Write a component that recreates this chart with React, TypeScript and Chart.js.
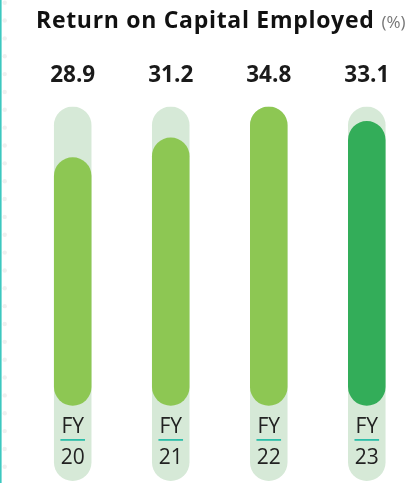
import React, { useEffect, useRef } from "react";
import { Chart, registerables } from "chart.js";

Chart.register(...registerables);

const titleText = "Return on Capital Employed";
const unitText = "(%)";
const fyPrefix = "FY";
const years = ["20", "21", "22", "23"];
const roce = [28.9, 31.2, 34.8, 33.1];
const trackRange: [number, number] = [-8.76, 34.8];
const barColors = ["#8dc753", "#8dc753", "#8dc753", "#33ad59"];
const trackColor = "#d6e9d7";

const FONT = "'Open Sans', sans-serif";

const decoPlugin = {
  id: "deco",
  beforeDraw(chart: any) {
    const { ctx, width, height } = chart;
    ctx.save();
    ctx.fillStyle = "#ffffff";
    ctx.fillRect(0, 0, width, height);
    ctx.fillStyle = "#f0f0f0";
    for (let y = 2.7; y < height; y += 17.85) {
      ctx.beginPath();
      ctx.arc(4.7, y, 2.2, 0, Math.PI * 2);
      ctx.fill();
    }
    ctx.fillStyle = "#3cc8c0";
    ctx.fillRect(0, 0, 1.6, height);
    ctx.restore();
  },
  afterDatasetsDraw(chart: any) {
    const { ctx, chartArea } = chart;
    const xs = chart.scales.x;
    ctx.save();
    // title
    ctx.textBaseline = "alphabetic";
    ctx.textAlign = "left";
    ctx.fillStyle = "#111111";
    ctx.font = `bold 23px ${FONT}`;
    ctx.letterSpacing = "0.7px";
    const tw = ctx.measureText(titleText).width;
    ctx.fillText(titleText, 36, 28);
    ctx.letterSpacing = "0px";
    ctx.font = `17px ${FONT}`;
    ctx.fillStyle = "#777777";
    ctx.fillText(unitText, 36 + tw + 7, 28);

    years.forEach((yr, i) => {
      const x = xs.getPixelForValue(i);
      // value
      ctx.textAlign = "center";
      ctx.fillStyle = "#1a1a1a";
      ctx.font = `bold 22.5px ${FONT}`;
      ctx.fillText(roce[i].toFixed(1), x, 82);
      // FY label
      ctx.fillStyle = "#222222";
      ctx.font = `21px ${FONT}`;
      ctx.fillText(fyPrefix, x, chartArea.bottom - 48.5);
      ctx.fillStyle = "#2dbda8";
      ctx.fillRect(x - 12.3, chartArea.bottom - 42, 24.6, 1.8);
      ctx.fillStyle = "#222222";
      ctx.fillText(yr, x, chartArea.bottom - 17);
    });
    ctx.restore();
  },
};

export default function App() {
  const ref = useRef<HTMLCanvasElement>(null);
  useEffect(() => {
    const chart = new Chart(ref.current!, {
      type: "bar",
      data: {
        labels: years.map((y) => `${fyPrefix} ${y}`),
        datasets: [
          {
            data: roce,
            backgroundColor: barColors,
            borderRadius: 20,
            borderSkipped: false,
            order: 0,
          },
          {
            data: years.map(() => trackRange),
            backgroundColor: trackColor,
            borderRadius: 20,
            borderSkipped: false,
            order: 1,
          },
        ] as any,
      },
      options: {
        animation: false,
        responsive: false,
        devicePixelRatio: 1,
        layout: { padding: { left: 23.7, right: 1.2, top: 106.5, bottom: 2 } },
        datasets: {
          bar: { grouped: false, categoryPercentage: 1, barPercentage: 0.383 },
        } as any,
        scales: {
          x: { display: false, offset: true },
          y: { display: false, min: trackRange[0], max: trackRange[1] },
        },
        plugins: {
          legend: { display: false },
          tooltip: { enabled: false },
          title: { display: false },
        },
      },
      plugins: [decoPlugin],
    });
    return () => chart.destroy();
  }, []);
  return (
    <div style={{ position: "absolute", left: 0, top: 0, width: 417, height: 483 }}>
      <canvas ref={ref} width={417} height={483} style={{ display: "block" }} />
    </div>
  );
}
